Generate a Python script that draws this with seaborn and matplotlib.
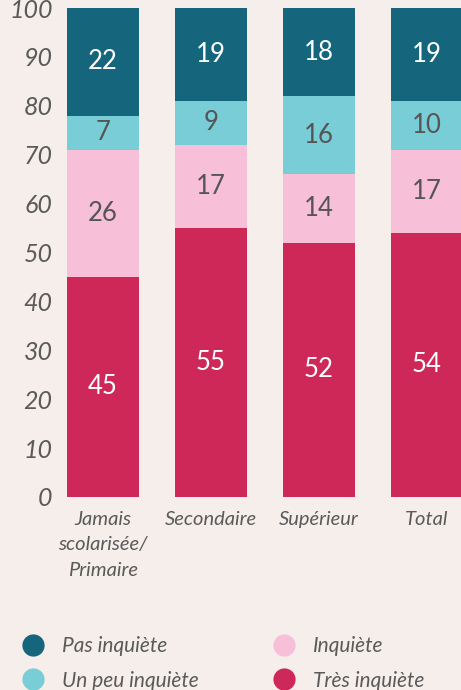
import numpy as np
import pandas as pd
import matplotlib
matplotlib.use("Agg")
import matplotlib.pyplot as plt
from matplotlib.lines import Line2D
import seaborn as sns

# Data
categories = ["Jamais\nscolarisée/\nPrimaire", "Secondaire", "Supérieur", "Total"]
tres_inquiete = [45, 55, 52, 54]
inquiete = [26, 17, 14, 17]
un_peu_inquiete = [7, 9, 16, 10]
pas_inquiete = [22, 19, 18, 19]

series_names = ["Très inquiète", "Inquiète", "Un peu inquiète", "Pas inquiète"]
series_values = [tres_inquiete, inquiete, un_peu_inquiete, pas_inquiete]
colors = ["#CE2859", "#F7C0D8", "#78CDD7", "#15657D"]
label_colors = ["white", "#555555", "#555555", "white"]

bg = "#F5EEEB"
grey = "#5A5A5A"

sns.set_theme(style="white")
plt.rcParams["font.family"] = ["Lato", "DejaVu Sans"]

df = pd.DataFrame({"cat": categories})
for name, vals in zip(series_names, series_values):
    df[name] = vals

fig = plt.figure(figsize=(4.61, 6.9), dpi=100, facecolor=bg)
ax = fig.add_axes([65.2 / 461, 193 / 690, 399.6 / 461, 489 / 690])
ax.set_facecolor(bg)

# stacked bars: draw cumulative totals from top layer down
cum = np.cumsum(np.array(series_values), axis=0)
for i in range(len(series_names) - 1, -1, -1):
    sns.barplot(x=df["cat"], y=cum[i], color=colors[i], width=0.667,
                saturation=1, ax=ax, edgecolor="none")

# segment labels
for i, vals in enumerate(series_values):
    for j, v in enumerate(vals):
        mid = cum[i][j] - v / 2
        ax.text(j, mid, str(v), ha="center", va="center", fontsize=18.5,
                color=label_colors[i], fontweight="normal")

ax.set_xlim(-0.35, 3.35)
ax.set_ylim(0, 100)
ax.set_yticks(range(0, 101, 10))
ax.set_xlabel("")
ax.set_ylabel("")
sns.despine(ax=ax, left=True, bottom=True)
ax.tick_params(axis="y", length=0, pad=9, labelsize=18, labelcolor=grey)
ax.tick_params(axis="x", length=0, pad=10, labelsize=14.5, labelcolor=grey)
for t in ax.get_yticklabels():
    t.set_fontstyle("italic")
for t in ax.get_xticklabels():
    t.set_fontstyle("italic")
    t.set_linespacing(1.6)

# legend, two columns
def make_handle(c):
    return Line2D([0], [0], marker="o", linestyle="none", markersize=16,
                  markerfacecolor=c, markeredgecolor="none")

left_items = [("Pas inquiète", colors[3]), ("Un peu inquiète", colors[2])]
right_items = [("Inquiète", colors[1]), ("Très inquiète", colors[0])]
for items, x0 in [(left_items, 22 / 461), (right_items, 273 / 461)]:
    leg = fig.legend([make_handle(c) for _, c in items], [n for n, _ in items],
                     loc="upper left", bbox_to_anchor=(x0, 1 - 636 / 690),
                     frameon=False, fontsize=15, handlelength=1.1,
                     handletextpad=0.8, labelspacing=0.7, borderpad=0,
                     borderaxespad=0)
    for t in leg.get_texts():
        t.set_fontstyle("italic")
        t.set_color(grey)

fig.savefig("out.png", dpi=100, facecolor=bg)
